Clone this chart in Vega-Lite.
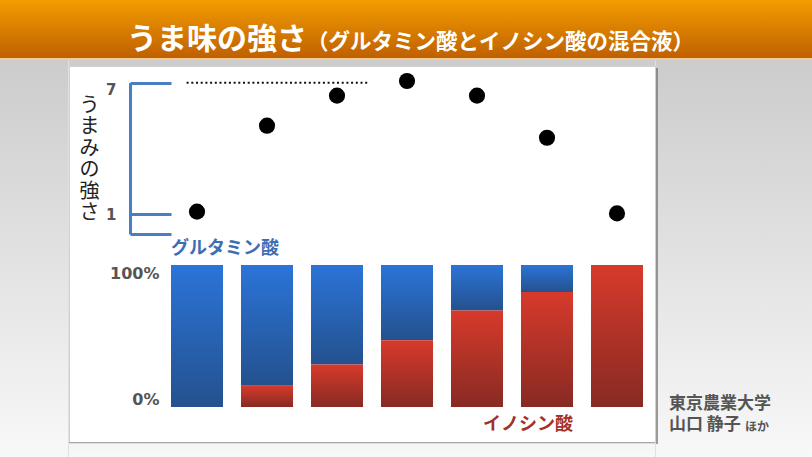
{
  "$schema": "https://vega.github.io/schema/vega-lite/v6.json",
  "padding": 0,
  "background": "#e0e0e0",
  "spacing": 0,
  "bounds": "flush",
  "config": {"font": "Noto Sans CJK JP", "view": {"stroke": null}, "concat": {"spacing": 0}},
  "datasets": {
    "bars": [
      {"mix": "100:0", "acid": "グルタミン酸", "pct": 100}, {"mix": "100:0", "acid": "イノシン酸", "pct": 0},
      {"mix": "85:15", "acid": "グルタミン酸", "pct": 85}, {"mix": "85:15", "acid": "イノシン酸", "pct": 15},
      {"mix": "70:30", "acid": "グルタミン酸", "pct": 70}, {"mix": "70:30", "acid": "イノシン酸", "pct": 30},
      {"mix": "53:47", "acid": "グルタミン酸", "pct": 53}, {"mix": "53:47", "acid": "イノシン酸", "pct": 47},
      {"mix": "32:68", "acid": "グルタミン酸", "pct": 32}, {"mix": "32:68", "acid": "イノシン酸", "pct": 68},
      {"mix": "19:81", "acid": "グルタミン酸", "pct": 19}, {"mix": "19:81", "acid": "イノシン酸", "pct": 81},
      {"mix": "0:100", "acid": "グルタミン酸", "pct": 0}, {"mix": "0:100", "acid": "イノシン酸", "pct": 100}
    ],
    "points": [
      {"mix": "100:0", "umami": 1.12}, {"mix": "85:15", "umami": 5.04}, {"mix": "70:30", "umami": 6.41},
      {"mix": "53:47", "umami": 7.08}, {"mix": "32:68", "umami": 6.41}, {"mix": "19:81", "umami": 4.49},
      {"mix": "0:100", "umami": 1.04}
    ]
  },
  "vconcat": [
    {
      "width": 812, "height": 58,
      "data": {"values": [{}]},
      "layer": [
        {"mark": {"type": "rect", "fill": {"gradient": "linear", "x1": 0, "y1": 0, "x2": 0, "y2": 1, "stops": [{"offset": 0, "color": "#f39c00"}, {"offset": 1, "color": "#bf6000"}]}}},
        {"mark": {"type": "text", "text": "うま味の強さ", "align": "right", "baseline": "alphabetic", "dx": -99, "dy": 19.5, "fontSize": 30, "fontWeight": "bold", "fill": "white"}},
        {"mark": {"type": "text", "text": "（グルタミン酸とイノシン酸の混合液）", "align": "left", "baseline": "alphabetic", "dx": -99, "dy": 19.5, "fontSize": 21.5, "fontWeight": "bold", "fill": "white"}}
      ]
    },
    {
      "width": 812, "height": 2,
      "data": {"values": [{}]},
      "mark": {"type": "rect", "fill": "#f7c98e"}
    },
    {
      "spacing": 0,
      "bounds": "full",
      "hconcat": [
        {
          "width": 68, "height": 397,
          "data": {"values": [{}]},
          "mark": {"type": "rect", "fill": {"gradient": "linear", "x1": 0, "y1": 0, "x2": 0, "y2": 1, "stops": [{"offset": 0, "color": "#cccccc"}, {"offset": 1, "color": "#f8f8f8"}]}}
        },
        {
          "spacing": 0,
          "bounds": "flush",
          "vconcat": [
            {
              "width": 586, "height": 6,
              "data": {"values": [{}]},
              "mark": {"type": "rect", "fill": "#cdcdcd"}
            },
            {
              "width": 586, "height": 376,
              "view": {"fill": "white", "stroke": "#d0d0d0"},
              "resolve": {"scale": {"y": "independent"}, "axis": {"y": "independent"}},
              "layer": [
                {
                  "layer": [
                    {
                      "data": {"values": [{}]},
                      "mark": {"type": "rule", "strokeDash": [2, 2.7], "strokeWidth": 2, "color": "#111"},
                      "encoding": {
                        "x": {"datum": "100:0", "type": "nominal", "bandPosition": 0.3, "axis": null,
                              "scale": {"domain": ["100:0", "85:15", "70:30", "53:47", "32:68", "19:81", "0:100"], "range": [102, 574], "paddingInner": 0.257, "paddingOuter": 0}},
                        "x2": {"datum": "70:30", "bandPosition": 1.12},
                        "y": {"datum": 7, "type": "quantitative"}
                      }
                    },
                    {
                      "data": {"name": "points"},
                      "mark": {"type": "circle", "size": 260, "fill": "#000", "opacity": 1},
                      "encoding": {
                        "x": {"field": "mix", "type": "nominal", "axis": null},
                        "y": {
                          "field": "umami", "type": "quantitative",
                          "scale": {"domain": [0.1, 7], "range": [168, 16.7], "nice": false, "zero": false},
                          "axis": {
                            "orient": "left", "offset": -61, "values": [0.1, 1, 7],
                            "labelExpr": "datum.value < 0.5 ? '' : format(datum.value, 'd')",
                            "domainColor": "#4a7ec2", "domainWidth": 3,
                            "tickColor": "#4a7ec2", "tickWidth": 3, "tickSize": -41,
                            "labelPadding": 55, "labelFont": "DejaVu Sans", "labelFontSize": 15, "labelFontWeight": "bold", "labelColor": "#555",
                            "labelFlush": true, "grid": false,
                            "title": ["う", "ま", "み", "の", "強", "さ"],
                            "titleAngle": 0, "titleX": -41, "titleY": 39, "titleAlign": "center", "titleBaseline": "middle",
                            "titleFontSize": 20, "titleLineHeight": 21.5, "titleFontWeight": "normal", "titleColor": "#222"
                          }
                        }
                      }
                    }
                  ]
                },
                {
                  "data": {"name": "bars"},
                  "transform": [{"stack": "pct", "groupby": ["mix"], "sort": [{"field": "acid", "order": "ascending"}], "as": ["y0", "y1"]}],
                  "layer": [
                    {
                      "transform": [{"filter": "datum.acid === 'グルタミン酸'"}],
                      "mark": {"type": "bar", "fill": {"gradient": "linear", "x1": 0, "y1": 0, "x2": 0, "y2": 1, "stops": [{"offset": 0, "color": "#2b74d8"}, {"offset": 1, "color": "#24518e"}]}},
                      "encoding": {
                        "x": {"field": "mix", "type": "nominal", "axis": null},
                        "y": {
                          "field": "y0", "type": "quantitative",
                          "scale": {"domain": [0, 100], "range": [341, 199], "nice": false},
                          "axis": {
                            "orient": "left", "offset": -90, "values": [0, 100], "labelExpr": "datum.value + '%'",
                            "domain": false, "ticks": false, "grid": false, "labelPadding": 0, "labelFlush": true,
                            "labelFont": "DejaVu Sans", "labelFontSize": 16, "labelFontWeight": "bold", "labelColor": "#555", "title": null
                          }
                        },
                        "y2": {"field": "y1"}
                      }
                    },
                    {
                      "transform": [{"filter": "datum.acid === 'イノシン酸'"}],
                      "mark": {"type": "bar", "fill": {"gradient": "linear", "x1": 0, "y1": 0, "x2": 0, "y2": 1, "stops": [{"offset": 0, "color": "#d73a2b"}, {"offset": 1, "color": "#872a23"}]}},
                      "encoding": {
                        "x": {"field": "mix", "type": "nominal"},
                        "y": {"field": "y0", "type": "quantitative"},
                        "y2": {"field": "y1"}
                      }
                    },
                    {
                      "data": {"values": [{}]},
                      "mark": {"type": "text", "text": "グルタミン酸", "align": "left", "baseline": "middle", "fontSize": 18, "fontWeight": "bold", "fill": "#3d6db5"},
                      "encoding": {
                        "x": {"datum": "100:0", "type": "nominal", "bandPosition": 0},
                        "y": {"datum": 111.6, "type": "quantitative"}
                      }
                    },
                    {
                      "data": {"values": [{}]},
                      "mark": {"type": "text", "text": "イノシン酸", "align": "right", "baseline": "middle", "fontSize": 18, "fontWeight": "bold", "fill": "#a33029"},
                      "encoding": {
                        "x": {"datum": "19:81", "type": "nominal", "bandPosition": 1},
                        "y": {"datum": -12.7, "type": "quantitative"}
                      }
                    }
                  ]
                }
              ]
            },
            {
              "width": 586, "height": 15,
              "data": {"values": [{}]},
              "mark": {"type": "rect", "fill": {"gradient": "linear", "x1": 0, "y1": 0, "x2": 0, "y2": 1, "stops": [{"offset": 0, "color": "#8c8c8c"}, {"offset": 0.13, "color": "#f5f5f5"}, {"offset": 1, "color": "#f8f8f8"}]}}
            }
          ]
        },
        {
          "width": 2, "height": 397,
          "data": {"values": [{}]},
          "mark": {"type": "rect", "fill": {"gradient": "linear", "x1": 0, "y1": 0, "x2": 0, "y2": 1, "stops": [{"offset": 0, "color": "#cccccc"}, {"offset": 0.02, "color": "#cdcdcd"}, {"offset": 0.0201, "color": "#8c8c8c"}, {"offset": 0.967, "color": "#9a9a9a"}, {"offset": 0.9671, "color": "#f6f6f6"}, {"offset": 1, "color": "#f8f8f8"}]}}
        },
        {
          "width": 156, "height": 397,
          "data": {"values": [{}]},
          "layer": [
            {"mark": {"type": "rect", "fill": {"gradient": "linear", "x1": 0, "y1": 0, "x2": 0, "y2": 1, "stops": [{"offset": 0, "color": "#cccccc"}, {"offset": 1, "color": "#f8f8f8"}]}}},
            {"mark": {"type": "text", "text": "東京農業大学", "align": "left", "baseline": "middle", "dx": -67, "dy": 145.5, "fontSize": 17, "fontWeight": "bold", "fill": "#555"}},
            {"mark": {"type": "text", "text": "山口 静子", "align": "left", "baseline": "middle", "dx": -67, "dy": 166.5, "fontSize": 17, "fontWeight": "bold", "fill": "#555"}},
            {"mark": {"type": "text", "text": "ほか", "align": "left", "baseline": "middle", "dx": 9, "dy": 168, "fontSize": 12, "fontWeight": "bold", "fill": "#555"}}
          ]
        }
      ]
    }
  ]
}
